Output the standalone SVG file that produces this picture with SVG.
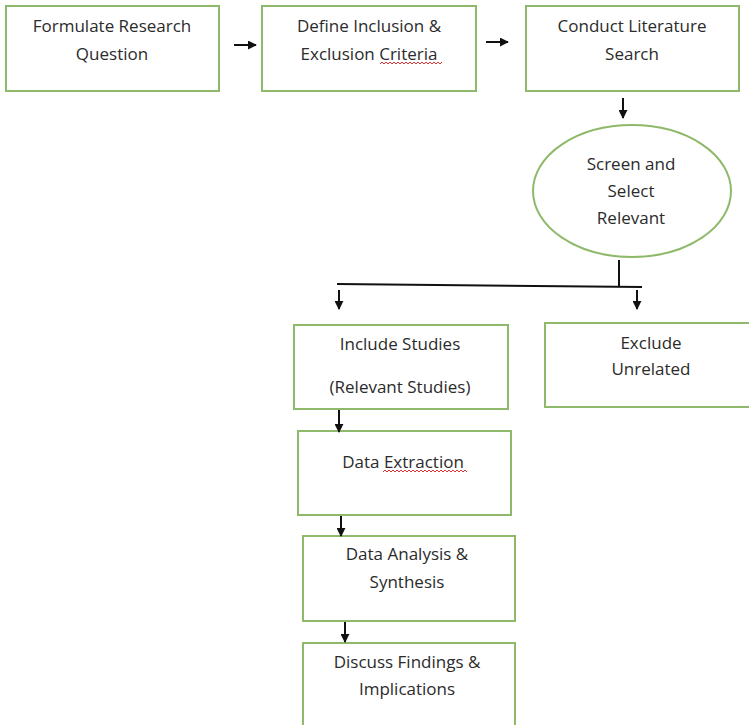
<svg xmlns="http://www.w3.org/2000/svg" width="749" height="725" viewBox="0 0 749 725">
<style>
.box{fill:#fff;stroke:#8fb96a;stroke-width:2}
.t{font-family:"Open Sans","Liberation Sans",sans-serif;font-size:17px;fill:#2b2b2b;text-anchor:middle}
.c{stroke:#111;stroke-width:2;fill:none}
.sq{stroke:#d33;stroke-width:1;fill:none}
</style>
<defs>
<marker id="ah" viewBox="0 0 10 10" refX="9" refY="5" markerWidth="4.5" markerHeight="4.5" orient="auto" markerUnits="strokeWidth">
<path d="M0,0 L10,5 L0,10 z" fill="#111"/>
</marker>
</defs>
<rect width="749" height="725" fill="#fff"/>
<g id="n1"><rect class="box" x="6" y="6" width="213" height="85"/>
<text class="t" x="112" y="32">Formulate Research</text><text class="t" x="112" y="60">Question</text></g>
<g id="n2"><rect class="box" x="262" y="6" width="214" height="85"/>
<text class="t" x="369" y="32">Define Inclusion &amp;</text><text class="t" x="369" y="60">Exclusion Criteria</text>
<path class="sq" d="M380,64 l2,-2 l2,2 l2,-2 l2,2 l2,-2 l2,2 l2,-2 l2,2 l2,-2 l2,2 l2,-2 l2,2 l2,-2 l2,2 l2,-2 l2,2 l2,-2 l2,2 l2,-2 l2,2 l2,-2 l2,2 l2,-2 l2,2 l2,-2 l2,2 l2,-2 l2,2 l2,-2 l2,2 l2,-2"/></g>
<g id="n3"><rect class="box" x="526" y="6" width="213" height="85"/>
<text class="t" x="632" y="32">Conduct Literature</text><text class="t" x="632" y="60">Search</text></g>
<g id="n4"><ellipse class="box" cx="632" cy="191" rx="99" ry="66"/>
<text class="t" x="631" y="170">Screen and</text><text class="t" x="631" y="197">Select</text><text class="t" x="631" y="224">Relevant</text></g>
<g id="n5"><rect class="box" x="294" y="325" width="214" height="84"/>
<text class="t" x="400" y="350">Include Studies</text><text class="t" x="400" y="393">(Relevant Studies)</text></g>
<g id="n6"><rect class="box" x="545" y="323" width="210" height="84"/>
<text class="t" x="651" y="349">Exclude</text><text class="t" x="651" y="375">Unrelated</text></g>
<g id="n7"><rect class="box" x="298" y="431" width="213" height="84"/>
<text class="t" x="403" y="468">Data Extraction</text>
<path class="sq" d="M383,472 l2,-2 l2,2 l2,-2 l2,2 l2,-2 l2,2 l2,-2 l2,2 l2,-2 l2,2 l2,-2 l2,2 l2,-2 l2,2 l2,-2 l2,2 l2,-2 l2,2 l2,-2 l2,2 l2,-2 l2,2 l2,-2 l2,2 l2,-2 l2,2 l2,-2 l2,2 l2,-2 l2,2 l2,-2 l2,2 l2,-2 l2,2 l2,-2 l2,2 l2,-2 l2,2 l2,-2 l2,2 l2,-2 l2,2"/></g>
<g id="n8"><rect class="box" x="303" y="536" width="212" height="85"/>
<text class="t" x="407" y="560">Data Analysis &amp;</text><text class="t" x="407" y="588">Synthesis</text></g>
<g id="n9"><rect class="box" x="303" y="643" width="212" height="90"/>
<text class="t" x="407" y="668">Discuss Findings &amp;</text><text class="t" x="407" y="695">Implications</text></g>
<g id="connectors">
<line class="c" x1="234" y1="45" x2="256" y2="45" marker-end="url(#ah)"/>
<line class="c" x1="486" y1="42" x2="508" y2="42" marker-end="url(#ah)"/>
<line class="c" x1="623" y1="98" x2="623" y2="118" marker-end="url(#ah)"/>
<line class="c" x1="619" y1="260" x2="619" y2="286"/>
<line class="c" x1="337" y1="284" x2="642" y2="287"/>
<line class="c" x1="339" y1="290" x2="339" y2="309" marker-end="url(#ah)"/>
<line class="c" x1="637" y1="290" x2="637" y2="309" marker-end="url(#ah)"/>
<line class="c" x1="339" y1="410" x2="339" y2="432" marker-end="url(#ah)"/>
<line class="c" x1="341" y1="516" x2="341" y2="536" marker-end="url(#ah)"/>
<line class="c" x1="345" y1="622" x2="345" y2="642" marker-end="url(#ah)"/>
</g>
</svg>
